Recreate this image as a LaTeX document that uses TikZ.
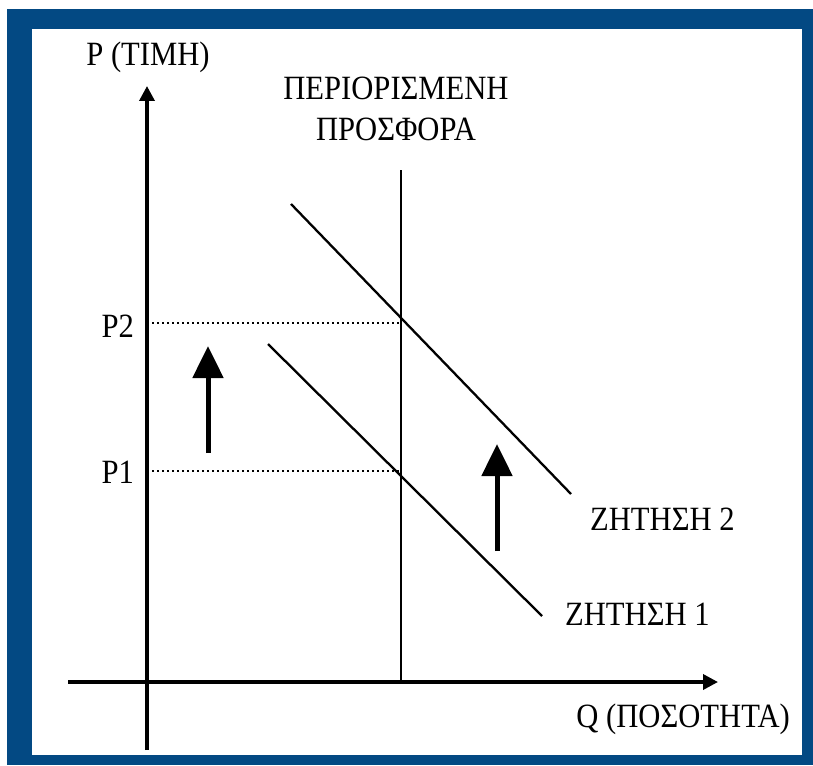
\documentclass[tikz,border=0pt]{standalone}
\usepackage{fontspec}
\setmainfont{Liberation Serif}
\usetikzlibrary{arrows.meta}
\definecolor{frameblue}{RGB}{3,73,131}
\begin{document}
\begin{tikzpicture}[x=1pt,y=-1pt,
  lbl/.style={font=\fontsize{34}{38}\selectfont, inner sep=0pt, xscale=0.9},
  axis/.style={line width=3.5pt, -{Triangle[length=15pt,width=15pt]}},
  curve/.style={line width=2.3pt},
  guide/.style={line width=2.4pt, dash pattern=on 2.4pt off 2.6pt},
  shiftarrow/.style={line width=5pt, -{Triangle[length=32pt,width=30pt]}}]
\useasboundingbox (0,0) rectangle (813,765);
\fill[frameblue] (7,9) rectangle (813,765);
\fill[white] (32,29) rectangle (802,755);
% axes
\coordinate (yb) at (147,750);
\coordinate (yt) at (147,86);
\coordinate (xl) at (68,682);
\coordinate (xr) at (718,682);
\draw[axis] (yb) -- (yt);
\draw[axis] (xl) -- (xr);
% supply
\coordinate (sb) at (401,682);
\coordinate (st) at (401,170);
\draw[curve] (sb) -- (st);
% demand curves
\coordinate (d2a) at (291,204);
\coordinate (d2b) at (571,494);
\coordinate (d1a) at (268,344);
\coordinate (d1b) at (542,616);
\draw[curve] (d2a) -- (d2b);
\draw[curve] (d1a) -- (d1b);
% guides
\coordinate (p2a) at (152,323);
\coordinate (p2b) at (401,323);
\coordinate (p1a) at (152,471);
\coordinate (p1b) at (401,471);
\draw[guide] (p2a) -- (p2b);
\draw[guide] (p1a) -- (p1b);
% shift arrows
\coordinate (a1t) at (208,453);
\coordinate (a1h) at (208,346);
\coordinate (a2t) at (497,551);
\coordinate (a2h) at (497,444);
\draw[shiftarrow] (a1t) -- (a1h);
\draw[shiftarrow] (a2t) -- (a2h);
% labels
\node[lbl] (ylab) at (148,57) {P (ΤΙΜΗ)};
\node[lbl] (s1) at (396,88) {ΠΕΡΙΟΡΙΣΜΕΝΗ};
\node[lbl] (s2) at (396,129) {ΠΡΟΣΦΟΡΑ};
\node[lbl, anchor=east] (lp2) at (134,326) {P2};
\node[lbl, anchor=east] (lp1) at (134,472) {P1};
\node[lbl, anchor=west] (ld2) at (590,519) {ΖΗΤΗΣΗ 2};
\node[lbl, anchor=west] (ld1) at (565,614) {ΖΗΤΗΣΗ 1};
\node[lbl, anchor=east] (xlab) at (790,719) {Q (ΠΟΣΟΤΗΤΑ)};
\end{tikzpicture}
\end{document}
